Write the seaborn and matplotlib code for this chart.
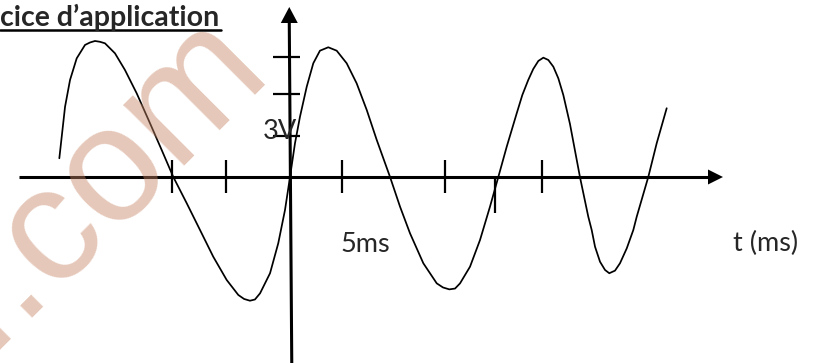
import matplotlib
matplotlib.use('Agg')
import matplotlib.pyplot as plt
import seaborn as sns

# signal (time in ms, voltage in V)
t_ms = [-22.18, -21.95, -21.63, -21.15, -20.51, -19.71, -19.23, -18.75, -18.27, -17.79,
        -16.83, -15.87, -14.74, -13.46, -12.34, -11.22, -9.93, -8.65, -7.38, -6.09,
        -4.97, -4.42, -3.85, -3.37, -2.88, -1.92, -1.13, -0.48, 0.0, 0.48,
        0.96, 1.61, 2.24, 2.88, 3.68, 4.49, 5.45, 6.41, 7.38, 8.34,
        9.62, 10.58, 11.54, 12.82, 14.11, 14.71, 15.32, 15.87, 16.35, 17.31,
        18.27, 19.23, 20.03, 20.84, 21.80, 22.34, 22.91, 23.39, 23.88, 24.36,
        24.84, 25.32, 25.80, 26.28, 26.92, 27.88, 28.68, 29.01, 29.33, 29.81,
        30.29, 30.70, 31.25, 31.73, 32.38, 33.01, 33.34, 34.45, 35.26, 36.22]
u_volts = [1.37, 2.95, 5.14, 7.10, 8.68, 9.66, 9.84, 9.95, 9.89, 9.78,
           9.05, 7.83, 6.12, 3.93, 1.98, 0.0, -1.92, -3.88, -5.83, -7.53,
           -8.63, -8.92, -9.05, -8.96, -8.51, -7.04, -4.85, -2.41, 0.0, 2.47,
           4.41, 6.61, 8.32, 9.24, 9.49, 9.24, 8.32, 6.85, 4.90, 2.71,
           0.0, -2.17, -4.12, -6.31, -7.78, -8.08, -8.22, -8.16, -7.78, -6.56,
           -4.61, -2.17, 0.0, 2.22, 4.66, 6.00, 7.10, 7.90, 8.49, 8.73,
           8.56, 8.07, 7.22, 6.00, 3.88, 0.0, -2.90, -3.88, -5.10, -6.20,
           -6.80, -7.04, -6.85, -6.31, -5.22, -3.88, -2.90, 0.0, 2.47, 5.03]

# hand drawn graduations
x_ticks_ms = [-11.35, -6.15, 5.0, 14.9, 24.2]
x_ticks_low_ms = [19.7]
y_ticks_v = [3.0, 6.07, 8.78]

title_txt = "cice d\u2019application"
volt_label = "3V"
time_label = "5ms"
axis_label = "t (ms)"
watermark = "..com"

# page scale of the sketch: 10.4 px per ms, 13.67 px per V
px_ms = 10.4
px_v = 13.67

sns.set_style('white')
plt.rcParams['font.family'] = ['Lato', 'DejaVu Sans']

fig = plt.figure(figsize=(8.16, 3.63), dpi=100)
ax = fig.add_axes([0, 0, 1, 1])
ax.set_xlim(-290 / px_ms, 526 / px_ms)
ax.set_ylim(-186 / px_v, 177 / px_v)
ax.axis('off')

# axes of the sketch
x_left, x_tip = -271 / px_ms, 433 / px_ms
ax.plot([x_left, x_tip - 15 / px_ms], [0, 0], color='black', lw=2.2, solid_capstyle='butt')
ax.fill([x_tip - 15 / px_ms, x_tip, x_tip - 15 / px_ms],
        [7.5 / px_v, 0, -7.5 / px_v], color='black', lw=0)
y_tip, y_bot = 170 / px_v, -186 / px_v
ax.plot([-0.07, 0.17], [y_tip - 16 / px_v, y_bot], color='black', lw=2.2, solid_capstyle='butt')
ax.fill([-8.5 / px_ms - 0.07, -0.07, 8.5 / px_ms - 0.07],
        [y_tip - 16 / px_v, y_tip, y_tip - 16 / px_v], color='black', lw=0)

# graduations
half = 16.5 / px_v
ax.vlines(x_ticks_ms, -half, half, color='black', lw=1.6)
ax.vlines(x_ticks_low_ms, -0.15, -2.6, color='black', lw=1.6)
ax.hlines(y_ticks_v, -16.7 / px_ms, 9.5 / px_ms, color='black', lw=1.6)

# the signal
line = sns.lineplot(x=t_ms, y=u_volts, sort=False, estimator=None, color='black', lw=1.25, ax=ax)
line.lines[-1].set_solid_joinstyle('round')

# labels
ax.text(-27 / px_ms, 38 / px_v, volt_label, fontsize=19.5, ha='left', va='baseline')
ax.text(50 / px_ms, -74.7 / px_v, time_label, fontsize=19.5, ha='left', va='baseline')
ax.text(443 / px_ms, -74 / px_v, axis_label, fontsize=19.5, ha='left', va='baseline')
ax.text(-290 / px_ms, 151 / px_v, title_txt, fontsize=20.5, fontweight='bold',
        ha='left', va='baseline')
ax.plot([-290 / px_ms, -69 / px_ms], [146.5 / px_v, 146.5 / px_v], color='black', lw=1.8)

# watermark over the drawing
ax.text(-304 / px_ms, -173 / px_v, watermark, fontsize=118, rotation=45,
        rotation_mode='anchor', ha='left', va='baseline', color='#C68463',
        alpha=0.45, zorder=10, family='Liberation Sans')

plt.savefig('out.png', dpi=100)
